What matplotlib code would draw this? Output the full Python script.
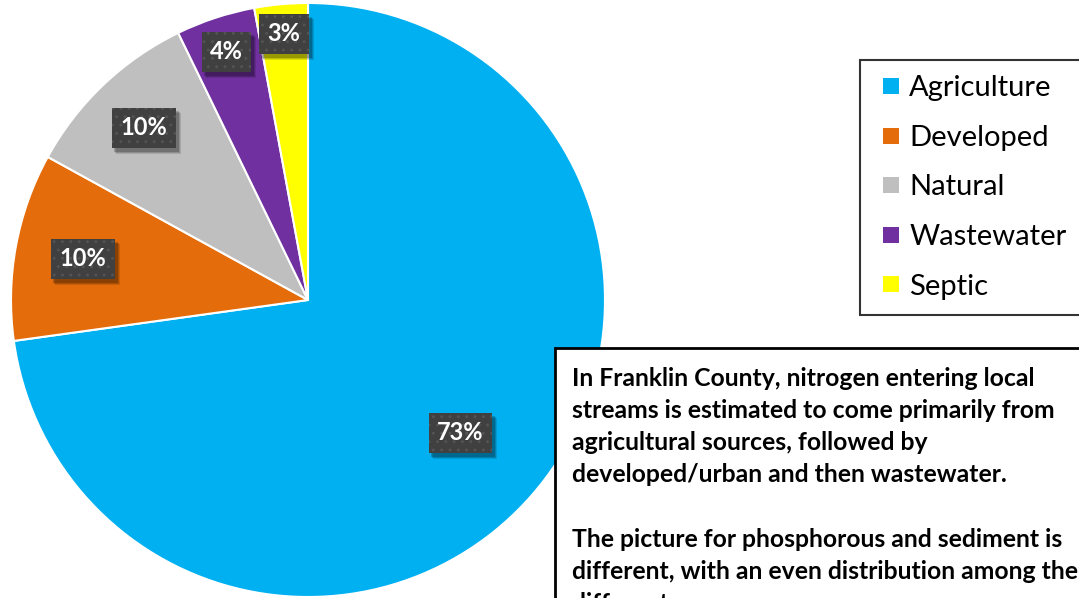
import numpy as np
import matplotlib
matplotlib.use("Agg")
import matplotlib.pyplot as plt
from matplotlib.lines import Line2D
from matplotlib.patches import Rectangle
from matplotlib.transforms import IdentityTransform

plt.rcParams['font.family'] = ['Lato', 'DejaVu Sans']
plt.rcParams['hatch.linewidth'] = 0.9

# data
sources = ["Agriculture", "Developed", "Natural", "Wastewater", "Septic"]
shares = [72.8, 10.2, 9.8, 4.3, 2.9]
colors = ["#00B0F0", "#E46C0A", "#BFBFBF", "#7030A0", "#FFFF00"]
label_dist = [0.68, 0.77, 0.80, 0.88, 0.90]

note = ("In Franklin County, nitrogen entering local\n"
        "streams is estimated to come primarily from\n"
        "agricultural sources, followed by\n"
        "developed/urban and then wastewater.\n"
        "\n"
        "The picture for phosphorous and sediment is\n"
        "different, with an even distribution among the\n"
        "different sources.")

W, H = 1079, 598
fig = plt.figure(figsize=(W / 100, H / 100), dpi=100)
ax = fig.add_axes([0, 0, 1, 1])

cx, cy, r = 308, H - 300, 297
wedges, _ = ax.pie(shares, colors=colors, startangle=90, counterclock=False,
                   center=(cx, cy), radius=r,
                   wedgeprops=dict(edgecolor="white", linewidth=1.5))
ax.set_xlim(0, W)
ax.set_ylim(0, H)
ax.set_aspect("equal")
ax.axis("off")

# percentage labels in dark dotted boxes
labels = []
for w, v, d in zip(wedges, shares, label_dist):
    mid = np.deg2rad((w.theta1 + w.theta2) / 2)
    x = cx + d * r * np.cos(mid)
    y = cy + d * r * np.sin(mid)
    t = ax.text(x, y, f"{v:.0f}%", ha="center", va="center", color="white",
                fontsize=17, fontweight="bold", zorder=5,
                bbox=dict(boxstyle="square,pad=0.36", fc="#404040",
                          ec="#545454", lw=0, hatch=".."))
    labels.append(t)

# legend with square markers
handles = [Line2D([], [], ls="none", marker="s", markersize=12.2,
                  markerfacecolor=c, markeredgewidth=0) for c in colors]
leg = ax.legend(handles, sources, loc="upper left",
                bbox_to_anchor=(860, H - 60), bbox_transform=ax.transData,
                borderaxespad=0, fontsize=21, fancybox=False, frameon=True,
                handlelength=1.07, handletextpad=0.1,
                labelspacing=0.81, borderpad=0.52)
leg.get_frame().set_edgecolor("black")
leg.get_frame().set_linewidth(1.5)

# text box (runs off the right and bottom edges)
ax.add_patch(Rectangle((555, -50), 700, H - 348 + 50, fc="white", ec="black",
                       lw=2, zorder=6))
ax.text(572, H - 367, note, ha="left", va="top", fontsize=17.8,
        fontweight="bold", linespacing=1.48, zorder=7)

# soft drop shadows behind the percentage boxes
fig.canvas.draw()
for t in labels:
    bb = t.get_bbox_patch().get_window_extent()
    for off, a in [(5, 0.12), (4, 0.15), (3, 0.2)]:
        ax.add_patch(Rectangle((bb.x0 + off - 1, bb.y0 - off - 1), bb.width + 1,
                               bb.height + 1, fc="black", alpha=a, lw=0,
                               transform=IdentityTransform(), zorder=4))

fig.savefig("out.png", dpi=100)
